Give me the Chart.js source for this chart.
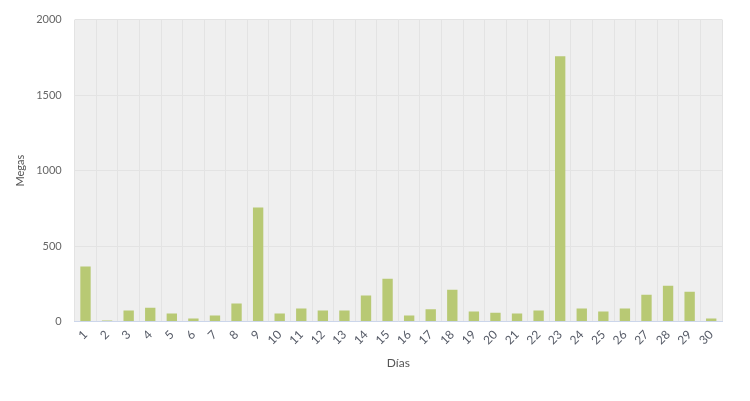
<!DOCTYPE html>
<html>
<head>
<meta charset="utf-8">
<script src="https://cdn.jsdelivr.net/npm/chart.js@4"></script>
<style>
    html, body { margin: 0; padding: 0; background: #fff; }
    #wrap { width: 750px; height: 401px; }
</style>
</head>
<body>
<div id="wrap"><canvas id="chart"></canvas></div>
<script>
// Datos
const dias = ['1','2','3','4','5','6','7','8','9','10','11','12','13','14','15',
              '16','17','18','19','20','21','22','23','24','25','26','27','28','29','30'];
const megas = [365, 7, 73, 92, 53, 20, 40, 119, 755, 53, 86, 73, 73, 172, 284,
               40, 81, 211, 66, 59, 53, 73, 1757, 86, 66, 86, 178, 238, 198, 20];
const yTicks = [0, 500, 1000, 1500, 2000];

// Fondo gris del area de trazado
const plotBackground = {
    id: 'plotBackground',
    beforeDraw(chart) {
        const { ctx, chartArea } = chart;
        ctx.save();
        ctx.fillStyle = '#efefef';
        ctx.fillRect(chartArea.left, chartArea.top, chartArea.right - chartArea.left, chartArea.bottom - chartArea.top);
        ctx.restore();
    }
};

const fontFamily = '"Lato", "Open Sans", sans-serif';

new Chart(document.getElementById('chart'), {
    type: 'bar',
    data: {
        labels: dias,
        datasets: [{
            label: 'Megas',
            data: megas,
            backgroundColor: '#b8c974',
            categoryPercentage: 1,
            barPercentage: 0.48
        }]
    },
    options: {
        responsive: true,
        maintainAspectRatio: false,
        animation: false,
        layout: { padding: { left: 14, right: 28, top: 10, bottom: 27 } },
        plugins: {
            legend: { display: false },
            tooltip: { enabled: false }
        },
        scales: {
            x: {
                grid: { color: '#e3e3e3', lineWidth: 1, drawTicks: false, offset: true },
                border: { color: '#ccd6eb', width: 1 },
                ticks: {
                    color: '#555a66',
                    font: { family: fontFamily, size: 12 },
                    minRotation: 45,
                    maxRotation: 45,
                    padding: 6,
                    autoSkip: false
                },
                title: {
                    display: true,
                    text: 'Días',
                    color: '#555',
                    font: { family: fontFamily, size: 12 },
                    padding: { top: 2 }
                }
            },
            y: {
                min: 0,
                max: 2000,
                afterBuildTicks(axis) {
                    axis.ticks = yTicks.map(v => ({ value: v }));
                },
                grid: { color: '#e3e3e3', lineWidth: 1, drawTicks: false },
                border: { display: false },
                ticks: {
                    color: '#666',
                    font: { family: fontFamily, size: 11 },
                    padding: 13,
                    callback: v => String(v)
                },
                title: {
                    display: true,
                    text: 'Megas',
                    color: '#555',
                    font: { family: fontFamily, size: 11 },
                    padding: { top: 0, bottom: -4 }
                }
            }
        }
    },
    plugins: [plotBackground]
});
</script>
</body>
</html>
